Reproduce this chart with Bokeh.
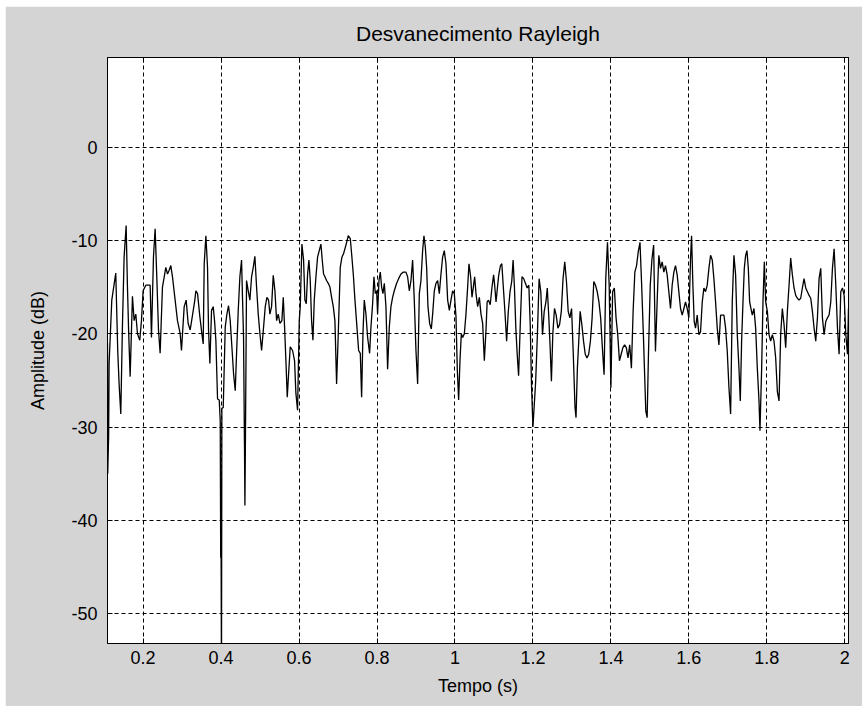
from bokeh.plotting import figure
from bokeh.models import Range1d, FixedTicker, LinearAxis
from bokeh.embed import file_html
from bokeh.resources import INLINE

# ---- data (time in s, amplitude in dB) ----
tempo_a = [0.1086, 0.1092, 0.1115, 0.1127, 0.1196, 0.1298, 0.1350, 0.1384, 0.1427, 0.1470,
           0.1512, 0.1564, 0.1598, 0.1630, 0.1667, 0.1726, 0.1769, 0.1812, 0.1855, 0.1914,
           0.1957, 0.2000, 0.2068, 0.2180, 0.2214, 0.2265, 0.2308, 0.2351, 0.2394, 0.2436,
           0.2496, 0.2582, 0.2625, 0.2668, 0.2710, 0.2753, 0.2813, 0.2881, 0.2950, 0.2984,
           0.3053, 0.3104, 0.3155, 0.3207, 0.3267, 0.3326]
amp_a = [-21.0, -35.0, -31.0, -23.2, -16.4, -13.5, -22.0, -25.4, -28.6, -19.0,
         -11.8, -8.4, -15.0, -20.0, -24.6, -16.0, -18.6, -17.9, -20.0, -20.7,
         -18.6, -15.4, -14.8, -14.8, -20.4, -11.8, -8.75, -14.0, -19.6, -22.1,
         -15.0, -12.9, -13.6, -13.2, -12.7, -13.9, -16.1, -18.6, -20.0, -21.8,
         -17.1, -16.4, -18.9, -19.6, -18.0, -16.4]

tempo_b = [0.3353, 0.3396, 0.3456, 0.3507, 0.3541, 0.3567, 0.3610, 0.3652, 0.3678, 0.3712,
           0.3755, 0.3798, 0.3832, 0.3866, 0.3909, 0.3952, 0.3978, 0.3990, 0.4000, 0.4010,
           0.4020, 0.4055, 0.4106, 0.4149, 0.4191, 0.4234, 0.4277, 0.4320, 0.4363, 0.4397,
           0.4440, 0.4482, 0.4525, 0.4551, 0.4576, 0.4600, 0.4611, 0.4625, 0.4653, 0.4696,
           0.4739, 0.4782, 0.4825, 0.4867, 0.4910, 0.4953, 0.4996, 0.5039, 0.5090, 0.5133,
           0.5175, 0.5218, 0.5252, 0.5295, 0.5338, 0.5381, 0.5424, 0.5466, 0.5509, 0.5560,
           0.5595, 0.5629, 0.5663, 0.5697, 0.5732, 0.5774, 0.5834, 0.5885]
amp_b = [-15.4, -15.7, -18.2, -20.0, -21.1, -12.5, -9.5, -12.9, -19.6, -23.2,
         -17.5, -17.1, -18.6, -20.7, -27.0, -27.1, -29.3, -44.0, -43.0, -58.0,
         -28.0, -27.9, -19.3, -17.9, -17.0, -18.6, -21.4, -24.3, -26.1, -22.1,
         -17.5, -13.9, -12.1, -16.4, -20.4, -32.0, -38.4, -31.0, -14.3, -15.4,
         -16.4, -13.9, -12.9, -11.7, -15.0, -17.9, -20.0, -21.8, -19.3, -17.1,
         -16.1, -16.4, -17.9, -17.1, -13.75, -15.4, -18.6, -17.9, -18.9, -18.6,
         -16.1, -19.3, -22.9, -26.8, -24.3, -21.4, -21.8, -22.9]

tempo_c = [0.5919, 0.5962, 0.6005, 0.6031, 0.6073, 0.6116, 0.6150, 0.6185, 0.6219, 0.6253,
           0.6287, 0.6321, 0.6356, 0.6390, 0.6433, 0.6475, 0.6518, 0.6561, 0.6595, 0.6629,
           0.6664, 0.6706, 0.6749, 0.6792, 0.6835, 0.6878, 0.6920, 0.6963, 0.7006, 0.7057,
           0.7100, 0.7143, 0.7203, 0.7263, 0.7314, 0.7348, 0.7391, 0.7434, 0.7485, 0.7528,
           0.7571, 0.7605, 0.7639, 0.7673, 0.7716, 0.7759, 0.7810, 0.7844, 0.7887, 0.7921,
           0.7956, 0.7990, 0.8015, 0.8050, 0.8084, 0.8118, 0.8152, 0.8187, 0.8229]
amp_c = [-26.4, -28.2, -18.6, -17.1, -10.4, -12.1, -16.4, -16.8, -13.6, -12.1,
         -14.3, -18.6, -20.7, -16.4, -13.9, -11.8, -11.1, -10.4, -12.1, -13.6,
         -13.9, -14.3, -14.6, -15.0, -16.1, -17.1, -18.6, -25.4, -20.0, -12.9,
         -11.8, -11.4, -10.5, -9.5, -9.8, -11.4, -13.6, -16.4, -19.3, -21.8,
         -22.1, -26.8, -20.0, -16.4, -17.9, -20.4, -22.1, -19.3, -16.8, -13.9,
         -15.7, -15.4, -17.9, -14.3, -13.4, -15.0, -15.7, -14.6, -17.1]

tempo_d = [0.8272, 0.8315, 0.8357, 0.8400, 0.8443, 0.8503, 0.8554, 0.8614, 0.8674, 0.8742,
           0.8785, 0.8828, 0.8871, 0.8913, 0.8956, 0.8999, 0.9042, 0.9085, 0.9127, 0.9170,
           0.9204, 0.9239, 0.9273, 0.9307, 0.9350, 0.9393, 0.9427, 0.9470, 0.9512, 0.9555,
           0.9598, 0.9641, 0.9683, 0.9726, 0.9769, 0.9812, 0.9855, 0.9897, 0.9940, 0.9983,
           1.0026, 1.0060, 1.0094, 1.0128, 1.0163, 1.0197, 1.0240, 1.0282, 1.0325, 1.0359,
           1.0402, 1.0436, 1.0471, 1.0505, 1.0539, 1.0582, 1.0625, 1.0667, 1.0710, 1.0753,
           1.0796]
amp_d = [-23.8, -19.3, -17.1, -16.1, -15.4, -14.6, -14.1, -13.6, -13.4, -13.4,
         -13.9, -15.4, -14.3, -12.1, -16.4, -21.8, -25.4, -15.7, -14.3, -11.1,
         -9.5, -10.7, -12.9, -17.1, -18.9, -19.5, -17.9, -15.4, -14.6, -14.3,
         -15.7, -13.6, -11.8, -11.1, -12.5, -16.4, -17.5, -16.4, -15.4, -15.7,
         -18.2, -23.9, -27.1, -22.9, -20.0, -20.4, -20.0, -17.9, -15.0, -12.5,
         -13.9, -16.1, -15.0, -13.9, -15.7, -17.1, -16.1, -17.9, -18.9, -22.9,
         -19.6]

tempo_e = [1.0825, 1.0860, 1.0904, 1.0947, 1.0991, 1.1018, 1.1053, 1.1088, 1.1123, 1.1167,
           1.1202, 1.1237, 1.1281, 1.1325, 1.1368, 1.1412, 1.1456, 1.1491, 1.1526, 1.1561,
           1.1596, 1.1632, 1.1675, 1.1719, 1.1763, 1.1807, 1.1851, 1.1895, 1.1930, 1.1965,
           1.2000, 1.2070, 1.2114, 1.2158, 1.2202, 1.2246, 1.2289, 1.2333, 1.2368, 1.2404,
           1.2439, 1.2474, 1.2509, 1.2553, 1.2596, 1.2640, 1.2684, 1.2728, 1.2772, 1.2816,
           1.2860, 1.2904, 1.2947, 1.2991, 1.3035, 1.3079, 1.3105, 1.3140, 1.3175, 1.3211,
           1.3254, 1.3298, 1.3342, 1.3386, 1.3430, 1.3474, 1.3518, 1.3561, 1.3605, 1.3649,
           1.3693, 1.3737, 1.3781, 1.3825, 1.3868, 1.3912, 1.3956, 1.4000, 1.4044, 1.4088,
           1.4132, 1.4175, 1.4219, 1.4263, 1.4307, 1.4351, 1.4395, 1.4439, 1.4482, 1.4526,
           1.4570, 1.4614, 1.4658, 1.4702, 1.4746, 1.4789, 1.4833, 1.4860, 1.4895, 1.4930,
           1.4965, 1.5009, 1.5053, 1.5096]
amp_e = [-16.6, -16.4, -16.9, -15.1, -13.7, -14.8, -16.6, -15.1, -13.7, -12.7,
         -12.5, -14.8, -17.6, -20.8, -17.6, -15.5, -14.4, -12.1, -15.1, -19.4,
         -22.2, -24.5, -19.0, -13.9, -14.1, -14.6, -15.1, -14.8, -19.0, -25.8,
         -30.0, -25.1, -20.1, -14.1, -15.5, -20.1, -17.6, -16.6, -15.1, -18.0,
         -21.2, -25.1, -20.1, -17.3, -18.0, -19.4, -19.0, -17.6, -14.1, -12.3,
         -14.4, -17.6, -18.3, -17.3, -22.2, -27.9, -29.0, -23.7, -20.8, -17.6,
         -19.0, -20.8, -22.2, -22.6, -22.2, -20.8, -18.3, -14.4, -14.8, -15.5,
         -16.6, -18.3, -21.5, -24.4, -14.1, -10.2, -14.8, -25.8, -15.5, -15.1,
         -18.3, -20.1, -22.9, -22.2, -21.5, -21.2, -21.5, -22.6, -21.2, -23.7,
         -17.6, -13.4, -12.7, -11.2, -10.2, -14.8, -20.1, -23.7, -28.3, -29.0,
         -21.9, -14.8, -12.0, -10.5]

tempo_f = [1.5143, 1.5186, 1.5229, 1.5272, 1.5315, 1.5358, 1.5400, 1.5443, 1.5486, 1.5529,
           1.5572, 1.5615, 1.5657, 1.5700, 1.5743, 1.5786, 1.5829, 1.5872, 1.5914, 1.5957,
           1.6000, 1.6043, 1.6069, 1.6103, 1.6137, 1.6171, 1.6214, 1.6257, 1.6300, 1.6343,
           1.6385, 1.6428, 1.6471, 1.6514, 1.6557, 1.6600, 1.6642, 1.6685, 1.6728, 1.6771,
           1.6814, 1.6857, 1.6899, 1.6942, 1.6985, 1.7028, 1.7071, 1.7113, 1.7156, 1.7199,
           1.7242, 1.7285, 1.7319, 1.7353, 1.7388, 1.7422, 1.7456, 1.7490, 1.7525, 1.7559,
           1.7593, 1.7627, 1.7670, 1.7713, 1.7756, 1.7799, 1.7824, 1.7867, 1.7901, 1.7936,
           1.7970, 1.8013, 1.8056, 1.8099, 1.8141, 1.8184, 1.8227, 1.8270, 1.8313, 1.8355,
           1.8398, 1.8441, 1.8484, 1.8527, 1.8570, 1.8612, 1.8655, 1.8698, 1.8741, 1.8784,
           1.8827, 1.8869, 1.8912, 1.8955, 1.8998, 1.9041, 1.9084, 1.9126, 1.9169, 1.9212,
           1.9255, 1.9298, 1.9340, 1.9383, 1.9426, 1.9469, 1.9512, 1.9555, 1.9597, 1.9640,
           1.9683, 1.9726, 1.9769, 1.9812, 1.9854, 1.9897, 1.9940, 1.9983, 2.0026, 2.0069,
           2.0094]
amp_f = [-21.9, -16.6, -11.6, -13.0, -12.3, -13.4, -12.7, -13.7, -15.5, -17.3,
         -14.8, -13.4, -12.7, -13.7, -15.5, -17.3, -18.0, -17.3, -16.6, -17.3,
         -18.3, -11.9, -9.5, -14.8, -18.7, -19.4, -18.0, -20.1, -19.8, -16.6,
         -15.1, -15.5, -14.8, -13.0, -11.6, -12.1, -14.1, -16.6, -19.4, -21.2,
         -18.0, -18.0, -18.0, -19.4, -21.9, -25.8, -28.6, -16.6, -11.6, -13.7,
         -20.1, -23.7, -27.2, -20.8, -16.6, -13.0, -11.6, -11.1, -13.0, -16.6,
         -17.3, -18.0, -17.3, -19.4, -23.7, -27.2, -30.4, -23.7, -16.6, -12.3,
         -16.6, -17.6, -20.1, -20.8, -20.1, -20.8, -22.6, -26.2, -27.2, -20.1,
         -17.3, -19.0, -21.5, -17.6, -14.8, -11.9, -13.7, -15.1, -15.9, -16.2,
         -16.4, -16.2, -15.1, -14.1, -15.1, -15.5, -15.9, -16.2, -17.6, -19.4,
         -20.8, -18.3, -14.1, -13.0, -18.3, -20.1, -18.7, -18.3, -18.0, -16.6,
         -13.0, -10.9, -14.8, -19.4, -22.2, -15.5, -15.1, -15.9, -20.1, -22.2,
         -17.3]

tempo = tempo_a + tempo_b + tempo_c + tempo_d + tempo_e + tempo_f
amplitude = amp_a + amp_b + amp_c + amp_d + amp_e + amp_f

x_ticks = [0.2, 0.4, 0.6, 0.8, 1, 1.2, 1.4, 1.6, 1.8, 2]
x_labels = ["0.2", "0.4", "0.6", "0.8", "1", "1.2", "1.4", "1.6", "1.8", "2"]
y_ticks = [-50, -40, -30, -20, -10, 0]
y_labels = ["-50", "-40", "-30", "-20", "-10", "0"]

FONT = "Liberation Sans"
BG = "#D4D4D4"
FS = "18px"

p = figure(frame_width=741, frame_height=586,
           min_border_left=102, min_border_right=14,
           min_border_top=51, min_border_bottom=63,
           x_range=Range1d(0.1086, 2.0095), y_range=Range1d(-53.2, 9.6),
           output_backend="svg", toolbar_location=None,
           background_fill_color="white", border_fill_color=BG,
           outline_line_color="black", outline_line_width=1)
p.margin = (6, 0, 0, 5)

p.title.text = "Desvanecimento Rayleigh"
p.title.align = "center"
p.title.text_font = FONT
p.title.text_font_size = "21px"
p.title.text_font_style = "normal"
p.title.text_color = "black"
p.title.standoff = 26

for ax, ticks in ((p.xaxis[0], x_ticks), (p.yaxis[0], y_ticks)):
    ax.ticker = FixedTicker(ticks=ticks)
    ax.major_tick_in = 5
    ax.major_tick_out = 0
    ax.minor_tick_line_color = None
    ax.axis_line_color = "black"
    ax.major_tick_line_color = "black"
    ax.major_label_text_font = FONT
    ax.major_label_text_font_size = FS
    ax.major_label_text_color = "black"
    ax.axis_label_text_font = FONT
    ax.axis_label_text_font_size = FS
    ax.axis_label_text_font_style = "normal"
    ax.axis_label_text_color = "black"

p.xaxis[0].major_label_overrides = dict(zip(x_ticks, x_labels))
p.xaxis[0].axis_label = "Tempo (s)"
p.xaxis[0].major_label_standoff = 7
p.xaxis[0].axis_label_standoff = 9
p.yaxis[0].major_label_overrides = dict(zip(y_ticks, y_labels))
p.yaxis[0].axis_label = "Amplitude (dB)"
p.yaxis[0].major_label_standoff = 10
p.yaxis[0].axis_label_standoff = 20

for loc, ticks in (("right", y_ticks), ("above", x_ticks)):
    ax = LinearAxis(ticker=FixedTicker(ticks=ticks), major_tick_in=5, major_tick_out=0,
                    minor_tick_line_color=None, axis_line_color="black",
                    major_label_text_color=None, major_label_text_font_size="1px",
                    major_label_standoff=0)
    p.add_layout(ax, loc)

p.grid.grid_line_color = "black"
p.grid.grid_line_dash = "4 3"
p.grid.grid_line_width = 1
p.grid.grid_line_alpha = 1.0
p.xgrid.ticker = FixedTicker(ticks=x_ticks)
p.ygrid.ticker = FixedTicker(ticks=y_ticks)

p.line(tempo, amplitude, line_color="black", line_width=1.3)

open("out.html", "w").write(file_html(p, INLINE))
